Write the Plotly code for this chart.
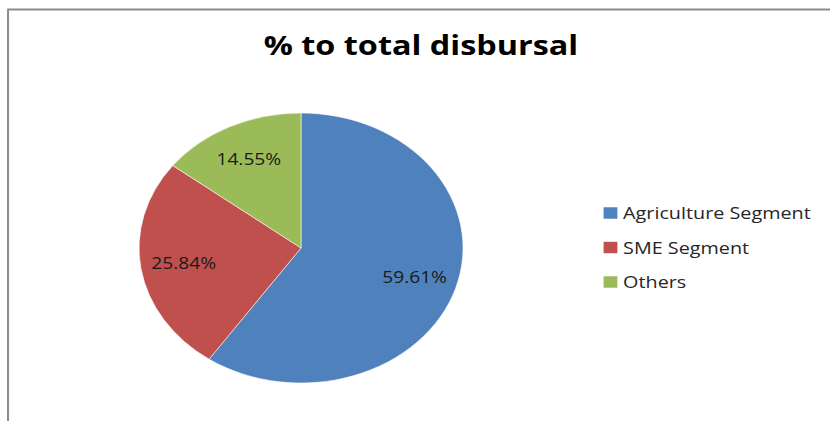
import plotly.graph_objects as go

# Share of total disbursal by segment
segments = ["Agriculture Segment", "SME Segment", "Others"]
shares = [59.61, 25.84, 14.55]
slice_colors = ["#4F81BD", "#C0504D", "#9BBB59"]
slice_labels = [f"{v:.2f}%" for v in shares]

# The figure is laid out on a narrower canvas and stretched horizontally
# to fill the page, which turns the pie into an ellipse.
PAGE_W = 830
W, H = 692, 421
SX = PAGE_W / W

CX, CY = 251, 248      # pie centre (canvas px)
R = 135                # pie radius
LABEL_R = 99           # radius at which slice labels sit

fig = go.Figure(
    go.Pie(
        labels=segments,
        values=shares,
        text=slice_labels,
        textinfo="text",
        textposition="inside",
        insidetextorientation="horizontal",
        sort=False,
        direction="clockwise",
        rotation=0,
        marker=dict(colors=slice_colors, line=dict(color="white", width=0.5)),
        textfont=dict(family="Open Sans", size=16, color="#1a1a1a"),
        domain=dict(
            x=[(CX - R) / W, (CX + R) / W],
            y=[(H - CY - R) / H, (H - CY + R) / H],
        ),
        hoverinfo="label+percent",
    )
)

fig.update_layout(
    width=W,
    height=H,
    margin=dict(l=0, r=0, t=0, b=0),
    paper_bgcolor="white",
    plot_bgcolor="white",
    title=dict(
        text="% to total disbursal",
        x=351 / W,
        xanchor="center",
        y=1 - 46 / H,
        yanchor="middle",
        font=dict(family="Open Sans", size=27, color="#000000", weight="bold"),
    ),
    showlegend=True,
    legend=dict(
        x=489 / W,
        xanchor="left",
        y=1 - 199 / H,
        yanchor="top",
        font=dict(family="Open Sans", size=16.5, color="#262626"),
        bgcolor="rgba(0,0,0,0)",
    ),
    shapes=[
        dict(type="line", xref="paper", yref="paper",
             x0=6 / W, x1=1, y0=1 - 9.5 / H, y1=1 - 9.5 / H,
             line=dict(color="#8c8c8c", width=2)),
        dict(type="line", xref="paper", yref="paper",
             x0=6.7 / W, x1=6.7 / W, y0=0, y1=1 - 9.5 / H,
             line=dict(color="#8c8c8c", width=1.7)),
    ],
)

post = """
var gd = document.getElementById('{plot_id}');
gd.style.transformOrigin = '0 0';
gd.style.transform = 'scaleX(%SX%)';

// move slice labels out along their mid-angle, to a common radius
var cd0 = (gd.calcdata && gd.calcdata[0] && gd.calcdata[0][0]) || {};
var cx = (cd0.cx !== undefined) ? cd0.cx : %CX%;
var cy = (cd0.cy !== undefined) ? cd0.cy : %CY%;
var texts = gd.querySelectorAll('.pielayer g.slicetext');
for (var i = 0; i < texts.length; i++) {
  var bb = texts[i].getBBox();
  var dx = bb.x + bb.width / 2 - cx;
  var dy = bb.y + bb.height / 2 - cy;
  var d = Math.sqrt(dx * dx + dy * dy);
  if (d > 0) {
    var k = %LR% / d - 1;
    texts[i].setAttribute('transform', 'translate(' + (k * dx) + ',' + (k * dy) + ')');
  }
}

// legend: wider row spacing, tighter symbol-to-text gap, no clipping
var sb = gd.querySelector('.legend .scrollbox');
if (sb) { sb.removeAttribute('clip-path'); }
var rows = gd.querySelectorAll('.legend .traces');
for (var j = 0; j < rows.length; j++) {
  rows[j].setAttribute('transform', 'translate(0,' + (14 + j * 34.5) + ')');
}
var lt = gd.querySelectorAll('.legend .legendtext');
for (var m = 0; m < lt.length; m++) {
  var x0 = parseFloat(lt[m].getAttribute('x')) || 40;
  lt[m].setAttribute('x', x0 - 9.5);
}
""".replace("%SX%", f"{SX:.4f}").replace("%CX%", str(CX)).replace(
    "%CY%", str(CY)).replace("%LR%", str(LABEL_R))

fig.write_html("out.html", post_script=post)
